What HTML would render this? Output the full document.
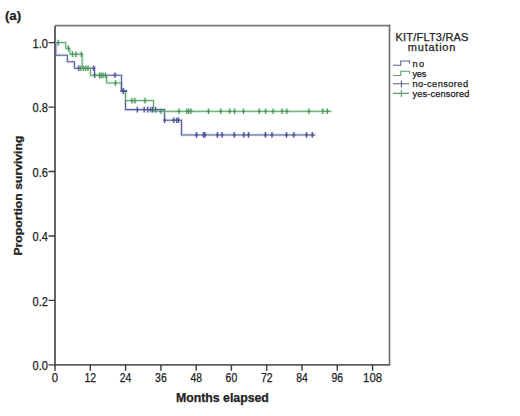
<!DOCTYPE html>
<html><head><meta charset="utf-8"><style>
html,body{margin:0;padding:0;background:#fff;}
body{width:520px;height:416px;overflow:hidden;}
svg{display:block;}
text{font-family:"Liberation Sans",sans-serif;fill:#222;stroke:#222;stroke-width:0.25px;}
</style></head><body>
<svg width="520" height="416" viewBox="0 0 520 416">
<rect width="520" height="416" fill="#fff"/>
<text x="4.9" y="19.5" font-size="13.3" font-weight="bold" stroke-width="0.1" fill="#000">(a)</text>
<path d="M55.8,42.6 V55.2 H67.3 V61.8 H74.4 V68.2 H94.5 V75.2 H121.5 V91.1 H125.5 V109.6 H164.6 V120.2 H181.5 V134.9 H315.5M78.8,65.4V71.0M77.2,68.2H80.4M93.8,65.4V71.0M92.2,68.2H95.4M94.6,72.4V78.0M93.0,75.2H96.2M115,72.4V78.0M113.4,75.2H116.6M123.4,88.3V93.9M121.8,91.1H125.0M137.3,106.8V112.4M135.7,109.6H138.9M144.2,106.8V112.4M142.6,109.6H145.8M147.8,106.8V112.4M146.2,109.6H149.4M150.8,106.8V112.4M149.2,109.6H152.4M152.6,106.8V112.4M151.0,109.6H154.2M155.6,106.8V112.4M154.0,109.6H157.2M164.6,117.4V123.0M163.0,120.2H166.2M173.7,117.4V123.0M172.1,120.2H175.3M176.7,117.4V123.0M175.1,120.2H178.3M178.5,117.4V123.0M176.9,120.2H180.1M196.5,132.1V137.7M194.9,134.9H198.1M203.5,132.1V137.7M201.9,134.9H205.1M205,132.1V137.7M203.4,134.9H206.6M217.4,132.1V137.7M215.8,134.9H219.0M222,132.1V137.7M220.4,134.9H223.6M234.3,132.1V137.7M232.7,134.9H235.9M243.8,132.1V137.7M242.2,134.9H245.4M248.5,132.1V137.7M246.9,134.9H250.1M265.4,132.1V137.7M263.8,134.9H267.0M272,132.1V137.7M270.4,134.9H273.6M286.5,132.1V137.7M284.9,134.9H288.1M293.8,132.1V137.7M292.2,134.9H295.4M306.5,132.1V137.7M304.9,134.9H308.1M312.3,132.1V137.7M310.7,134.9H313.9" stroke="#e2e3f2" stroke-width="3.2" fill="none"/>
<path d="M55,42.6 H65.8 V48.4 H69.9 V54.2 H82.2 V68.2 H90.5 V75.4 H106.6 V83 H121.5 V91.1 H125.5 V100.6 H153.5 V111.3 H331.5M58.2,39.8V45.4M56.6,42.6H59.8M68.4,45.6V51.2M66.8,48.4H70.0M72.4,51.4V57.0M70.8,54.2H74.0M75.9,51.4V57.0M74.3,54.2H77.5M81.4,51.4V57.0M79.8,54.2H83.0M80.8,65.4V71.0M79.2,68.2H82.4M83.5,65.4V71.0M81.9,68.2H85.1M85.8,65.4V71.0M84.2,68.2H87.4M88,65.4V71.0M86.4,68.2H89.6M99.6,72.6V78.2M98.0,75.4H101.2M101.2,72.6V78.2M99.6,75.4H102.8M103,72.6V78.2M101.4,75.4H104.6M105.4,72.6V78.2M103.8,75.4H107.0M115.5,80.2V85.8M113.9,83.0H117.1M131.9,97.8V103.4M130.3,100.6H133.5M134.9,97.8V103.4M133.3,100.6H136.5M145,97.8V103.4M143.4,100.6H146.6M161,108.5V114.1M159.4,111.3H162.6M179,108.5V114.1M177.4,111.3H180.6M186.9,108.5V114.1M185.3,111.3H188.5M188.7,108.5V114.1M187.1,111.3H190.3M191,108.5V114.1M189.4,111.3H192.6M208.5,108.5V114.1M206.9,111.3H210.1M220.8,108.5V114.1M219.2,111.3H222.4M229.7,108.5V114.1M228.1,111.3H231.3M234.6,108.5V114.1M233.0,111.3H236.2M243.5,108.5V114.1M241.9,111.3H245.1M259.2,108.5V114.1M257.6,111.3H260.8M265.7,108.5V114.1M264.1,111.3H267.3M273.1,108.5V114.1M271.5,111.3H274.7M282,108.5V114.1M280.4,111.3H283.6M286.9,108.5V114.1M285.3,111.3H288.5M308.9,108.5V114.1M307.3,111.3H310.5M322.8,108.5V114.1M321.2,111.3H324.4M327.4,108.5V114.1M325.8,111.3H329.0" stroke="#d8f1de" stroke-width="3.2" fill="none"/>
<path d="M54.05,364.9H390.3" stroke="#5e5e5e" stroke-width="1.9"/>
<path d="M55,25.7V365.8" stroke="#5e5e5e" stroke-width="1.9"/>
<path d="M55,25.7H390.3" stroke="#7a7a7a" stroke-width="1.7"/>
<path d="M389.5,24.85V365" stroke="#6a6a6a" stroke-width="1.6"/>
<path d="M48.5,364.9H55M48.5,300.4H55M48.5,236.0H55M48.5,171.5H55M48.5,107.1H55M48.5,42.6H55M55.0,364.9V370.8M90.3,364.9V370.8M125.6,364.9V370.8M160.9,364.9V370.8M196.2,364.9V370.8M231.4,364.9V370.8M266.7,364.9V370.8M302.0,364.9V370.8M337.3,364.9V370.8M372.6,364.9V370.8" stroke="#3c3c3c" stroke-width="1.4" fill="none"/>
<text x="48.0" y="370.1" font-size="12.2" text-anchor="end" textLength="15.4" lengthAdjust="spacingAndGlyphs">0.0</text>
<text x="48.0" y="305.6" font-size="12.2" text-anchor="end" textLength="15.4" lengthAdjust="spacingAndGlyphs">0.2</text>
<text x="48.0" y="241.2" font-size="12.2" text-anchor="end" textLength="15.4" lengthAdjust="spacingAndGlyphs">0.4</text>
<text x="48.0" y="176.7" font-size="12.2" text-anchor="end" textLength="15.4" lengthAdjust="spacingAndGlyphs">0.6</text>
<text x="48.0" y="112.3" font-size="12.2" text-anchor="end" textLength="15.4" lengthAdjust="spacingAndGlyphs">0.8</text>
<text x="48.0" y="47.8" font-size="12.2" text-anchor="end" textLength="15.4" lengthAdjust="spacingAndGlyphs">1.0</text>
<text x="55.0" y="382.3" font-size="11.9" text-anchor="middle" textLength="6.3" lengthAdjust="spacingAndGlyphs">0</text>
<text x="90.3" y="382.3" font-size="11.9" text-anchor="middle" textLength="11.6" lengthAdjust="spacingAndGlyphs">12</text>
<text x="125.6" y="382.3" font-size="11.9" text-anchor="middle" textLength="11.6" lengthAdjust="spacingAndGlyphs">24</text>
<text x="160.9" y="382.3" font-size="11.9" text-anchor="middle" textLength="11.6" lengthAdjust="spacingAndGlyphs">36</text>
<text x="196.2" y="382.3" font-size="11.9" text-anchor="middle" textLength="11.6" lengthAdjust="spacingAndGlyphs">48</text>
<text x="231.4" y="382.3" font-size="11.9" text-anchor="middle" textLength="11.6" lengthAdjust="spacingAndGlyphs">60</text>
<text x="266.7" y="382.3" font-size="11.9" text-anchor="middle" textLength="11.6" lengthAdjust="spacingAndGlyphs">72</text>
<text x="302.0" y="382.3" font-size="11.9" text-anchor="middle" textLength="11.6" lengthAdjust="spacingAndGlyphs">84</text>
<text x="337.3" y="382.3" font-size="11.9" text-anchor="middle" textLength="11.6" lengthAdjust="spacingAndGlyphs">96</text>
<text x="372.6" y="382.3" font-size="11.9" text-anchor="middle" textLength="19.0" lengthAdjust="spacingAndGlyphs">108</text>
<text x="222.4" y="402.4" font-size="12.4" text-anchor="middle" font-weight="bold" stroke-width="0.1" textLength="93" lengthAdjust="spacingAndGlyphs" fill="#111">Months elapsed</text>
<text transform="translate(21.9,195.6) rotate(-90)" x="0" y="0" font-size="11.4" font-weight="bold" stroke-width="0.05" text-anchor="middle" fill="#111" textLength="120" lengthAdjust="spacingAndGlyphs">Proportion surviving</text>
<path d="M55.8,42.6 V55.2 H67.3 V61.8 H74.4 V68.2 H94.5 V75.2 H121.5 V91.1 H125.5 V109.6 H164.6 V120.2 H181.5 V134.9 H315.5" stroke="#575f93" stroke-width="1.05" fill="none"/>
<path d="M78.8,65.4V71.0M77.2,68.2H80.4M93.8,65.4V71.0M92.2,68.2H95.4M94.6,72.4V78.0M93.0,75.2H96.2M115,72.4V78.0M113.4,75.2H116.6M123.4,88.3V93.9M121.8,91.1H125.0M137.3,106.8V112.4M135.7,109.6H138.9M144.2,106.8V112.4M142.6,109.6H145.8M147.8,106.8V112.4M146.2,109.6H149.4M150.8,106.8V112.4M149.2,109.6H152.4M152.6,106.8V112.4M151.0,109.6H154.2M155.6,106.8V112.4M154.0,109.6H157.2M164.6,117.4V123.0M163.0,120.2H166.2M173.7,117.4V123.0M172.1,120.2H175.3M176.7,117.4V123.0M175.1,120.2H178.3M178.5,117.4V123.0M176.9,120.2H180.1M196.5,132.1V137.7M194.9,134.9H198.1M203.5,132.1V137.7M201.9,134.9H205.1M205,132.1V137.7M203.4,134.9H206.6M217.4,132.1V137.7M215.8,134.9H219.0M222,132.1V137.7M220.4,134.9H223.6M234.3,132.1V137.7M232.7,134.9H235.9M243.8,132.1V137.7M242.2,134.9H245.4M248.5,132.1V137.7M246.9,134.9H250.1M265.4,132.1V137.7M263.8,134.9H267.0M272,132.1V137.7M270.4,134.9H273.6M286.5,132.1V137.7M284.9,134.9H288.1M293.8,132.1V137.7M292.2,134.9H295.4M306.5,132.1V137.7M304.9,134.9H308.1M312.3,132.1V137.7M310.7,134.9H313.9" stroke="#4a5290" stroke-width="1.2" fill="none"/>
<path d="M55,42.6 H65.8 V48.4 H69.9 V54.2 H82.2 V68.2 H90.5 V75.4 H106.6 V83 H121.5 V91.1 H125.5 V100.6 H153.5 V111.3 H331.5" stroke="#5f9c6c" stroke-width="0.95" fill="none"/>
<path d="M58.2,39.8V45.4M56.6,42.6H59.8M68.4,45.6V51.2M66.8,48.4H70.0M72.4,51.4V57.0M70.8,54.2H74.0M75.9,51.4V57.0M74.3,54.2H77.5M81.4,51.4V57.0M79.8,54.2H83.0M80.8,65.4V71.0M79.2,68.2H82.4M83.5,65.4V71.0M81.9,68.2H85.1M85.8,65.4V71.0M84.2,68.2H87.4M88,65.4V71.0M86.4,68.2H89.6M99.6,72.6V78.2M98.0,75.4H101.2M101.2,72.6V78.2M99.6,75.4H102.8M103,72.6V78.2M101.4,75.4H104.6M105.4,72.6V78.2M103.8,75.4H107.0M115.5,80.2V85.8M113.9,83.0H117.1M131.9,97.8V103.4M130.3,100.6H133.5M134.9,97.8V103.4M133.3,100.6H136.5M145,97.8V103.4M143.4,100.6H146.6M161,108.5V114.1M159.4,111.3H162.6M179,108.5V114.1M177.4,111.3H180.6M186.9,108.5V114.1M185.3,111.3H188.5M188.7,108.5V114.1M187.1,111.3H190.3M191,108.5V114.1M189.4,111.3H192.6M208.5,108.5V114.1M206.9,111.3H210.1M220.8,108.5V114.1M219.2,111.3H222.4M229.7,108.5V114.1M228.1,111.3H231.3M234.6,108.5V114.1M233.0,111.3H236.2M243.5,108.5V114.1M241.9,111.3H245.1M259.2,108.5V114.1M257.6,111.3H260.8M265.7,108.5V114.1M264.1,111.3H267.3M273.1,108.5V114.1M271.5,111.3H274.7M282,108.5V114.1M280.4,111.3H283.6M286.9,108.5V114.1M285.3,111.3H288.5M308.9,108.5V114.1M307.3,111.3H310.5M322.8,108.5V114.1M321.2,111.3H324.4M327.4,108.5V114.1M325.8,111.3H329.0" stroke="#4a915c" stroke-width="1.15" fill="none"/>
<path d="M121.5,82V91.1H125.5M123.4,88.3V93.9" stroke="#575f93" stroke-width="1.4" fill="none"/>
<path d="M120.6,91.1H127.2" stroke="#4a5290" stroke-width="1.8" fill="none"/>
<text x="432" y="41.1" font-size="11.0" text-anchor="middle" textLength="72.8" lengthAdjust="spacing">KIT/FLT3/RAS</text>
<text x="431.6" y="51.2" font-size="11.0" text-anchor="middle" textLength="47.5" lengthAdjust="spacing">mutation</text>
<path d="M393,65.3H400.8V61.0H409.5V63.5" stroke="#575f93" stroke-width="1.1" fill="none"/>
<path d="M393,75.5H400.8V71.2H409.5V73.7" stroke="#5f9c6c" stroke-width="1.1" fill="none"/>
<path d="M393,83.7H409M401.4,80.4V87.3" stroke="#575f93" stroke-width="1.1" fill="none"/>
<path d="M393,93.4H409M401.4,90.1V97" stroke="#5f9c6c" stroke-width="1.1" fill="none"/>
<text x="412.4" y="66.7" font-size="9.2" textLength="11.6" lengthAdjust="spacing" stroke-width="0.4">no</text>
<text x="412.4" y="76.7" font-size="9.2" textLength="14.0" lengthAdjust="spacing" stroke-width="0.4">yes</text>
<text x="412.4" y="87.2" font-size="9.2" textLength="55.6" lengthAdjust="spacing" stroke-width="0.4">no-censored</text>
<text x="412.4" y="97.3" font-size="9.2" textLength="57.0" lengthAdjust="spacing" stroke-width="0.4">yes-censored</text>
</svg>
</body></html>
